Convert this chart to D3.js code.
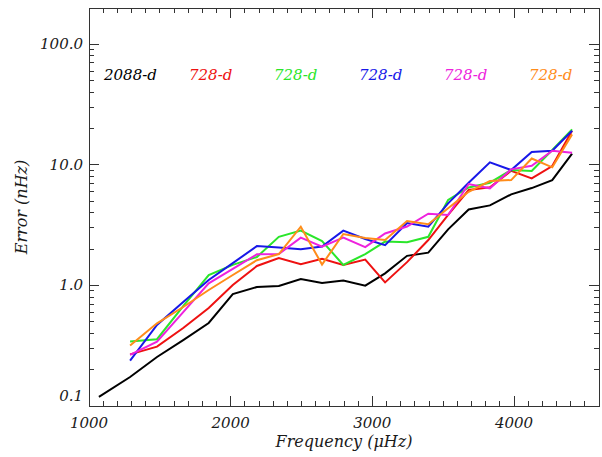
<!DOCTYPE html>
<html><head><meta charset="utf-8">
<script src="https://cdn.jsdelivr.net/npm/d3@7"></script>
<style>body{margin:0;background:#fff}svg text{font-family:"DejaVu Serif",serif;font-style:italic}</style>
</head><body><svg id="c" width="602" height="457"></svg>
<script>
const freqLong = [1070,1290,1480,1665,1845,2015,2185,2340,2495,2645,2795,2950,3090,3245,3395,3535,3680,3830,3980,4125,4270,4410];
const freqShort = [1290,1480,1665,1845,2015,2185,2340,2495,2645,2795,2950,3090,3245,3395,3535,3680,3830,3980,4125,4270,4410];
const err2088 = [0.119,0.174,0.255,0.352,0.488,0.849,0.97,0.99,1.13,1.05,1.10,0.995,1.26,1.76,1.87,2.92,4.27,4.61,5.69,6.42,7.48,12.4];
const errRed = [0.268,0.311,0.443,0.650,1.01,1.45,1.69,1.50,1.66,1.48,1.64,1.06,1.56,2.38,3.84,6.18,6.51,8.93,7.73,9.77,19.2];
const errGreen = [0.343,0.358,0.674,1.22,1.48,1.72,2.53,2.85,2.33,1.48,1.82,2.31,2.28,2.53,5.11,6.50,7.11,9.06,8.89,13.3,19.7];
const errBlue = [0.238,0.470,0.728,1.11,1.53,2.12,2.06,2.00,2.10,2.85,2.43,2.16,3.29,3.07,4.79,7.11,10.5,9.06,12.8,13.1,19.2];
const errMagenta = [0.265,0.341,0.601,1.04,1.37,1.81,1.82,2.49,2.10,2.49,2.08,2.70,3.08,3.93,3.84,6.93,6.39,9.18,9.84,13.1,12.6];
const errOrange = [0.318,0.485,0.662,0.916,1.22,1.62,1.82,3.07,1.49,2.67,2.47,2.38,3.42,3.22,4.36,5.98,7.34,7.48,11.3,9.54,17.9];
const seriesNames = ["2088-d","728-d","728-d","728-d","728-d","728-d"];
const seriesColors = ["#000000","#ee1111","#2ae62a","#1818e8","#ee22dd","#ff8c1a"];
const xTicks = [1000,2000,3000,4000];
const yTicks = [0.1,1,10,100];
const yTickLabels = ["0.1","1.0","10.0","100.0"];

const series = [
  {f: freqLong, v: err2088},
  {f: freqShort, v: errRed},
  {f: freqShort, v: errGreen},
  {f: freqShort, v: errBlue},
  {f: freqShort, v: errMagenta},
  {f: freqShort, v: errOrange}
];

const L=89, R=599, T=8, B=406;
const svg = d3.select("#c");
const x = d3.scaleLinear().domain([1000,4600]).range([L,R]);
const y = d3.scaleLog().domain([0.1,200]).range([B,T]);
const axisCol = "#333";
const textCol = "#1a1a1a";

const xMinor = d3.range(1000,4601,100).filter(v=>v%1000!==0);
const yMinor = [];
[0.1,1,10,100].forEach(d=>{for(let k=2;k<=9;k++){const v=d*k; if(v<=200) yMinor.push(v);}});

const g = svg.append("g");
function ticks(sel, vals, len, orient){
  vals.forEach(v=>{
    if(orient==="b") sel.append("line").attr("x1",x(v)).attr("x2",x(v)).attr("y1",B).attr("y2",B-len);
    if(orient==="t") sel.append("line").attr("x1",x(v)).attr("x2",x(v)).attr("y1",T).attr("y2",T+len);
    if(orient==="l") sel.append("line").attr("x1",L).attr("x2",L+len).attr("y1",y(v)).attr("y2",y(v));
    if(orient==="r") sel.append("line").attr("x1",R).attr("x2",R-len).attr("y1",y(v)).attr("y2",y(v));
  });
}
const tg = g.append("g").attr("stroke",axisCol).attr("stroke-width",1).attr("shape-rendering","crispEdges");
ticks(tg, xTicks.filter(v=>v>1000), 10, "b"); ticks(tg, xTicks.filter(v=>v>1000), 10, "t");
ticks(tg, xMinor, 5, "b"); ticks(tg, xMinor, 5, "t");
ticks(tg, yTicks.filter(v=>v>0.1), 10, "l"); ticks(tg, yTicks.filter(v=>v>0.1), 10, "r");
ticks(tg, yMinor, 5, "l"); ticks(tg, yMinor, 5, "r");
g.append("rect").attr("x",L).attr("y",T).attr("width",R-L).attr("height",B-T)
  .attr("fill","none").attr("stroke",axisCol).attr("stroke-width",1).attr("shape-rendering","crispEdges");

// tick labels
g.selectAll(".xl").data(xTicks).join("text").attr("x",d=>x(d)).attr("y",428)
  .attr("text-anchor","middle").attr("font-size",15).attr("fill",textCol).text(d=>d);
g.selectAll(".yl").data(yTicks).join("text").attr("x",L-6).attr("y",d=>Math.min(y(d)+5, 401))
  .attr("text-anchor","end").attr("font-size",15).attr("fill",textCol).text((d,i)=>yTickLabels[i]);

// axis titles
svg.append("text").attr("x",(L+R)/2).attr("y",447).attr("text-anchor","middle").attr("font-size",16).attr("fill",textCol).text("Frequency (μHz)");
svg.append("text").attr("transform",`translate(27,${(T+B)/2}) rotate(-90)`).attr("text-anchor","middle").attr("font-size",16).attr("fill",textCol).text("Error (nHz)");

// lines
const line = d3.line().x(d=>x(d[0])).y(d=>y(d[1]));
series.forEach((s,i)=>{
  svg.append("path").datum(s.f.map((f,j)=>[f,s.v[j]])).attr("d",line)
    .attr("fill","none").attr("stroke",seriesColors[i]).attr("stroke-width",2).attr("stroke-linejoin","miter");
});

// legend
const legX = [104,189,274,359,444,529];
seriesNames.forEach((n,i)=>{
  svg.append("text").attr("x",legX[i]).attr("y",80).attr("font-size",15).attr("fill",seriesColors[i]).text(n);
});
</script></body></html>
